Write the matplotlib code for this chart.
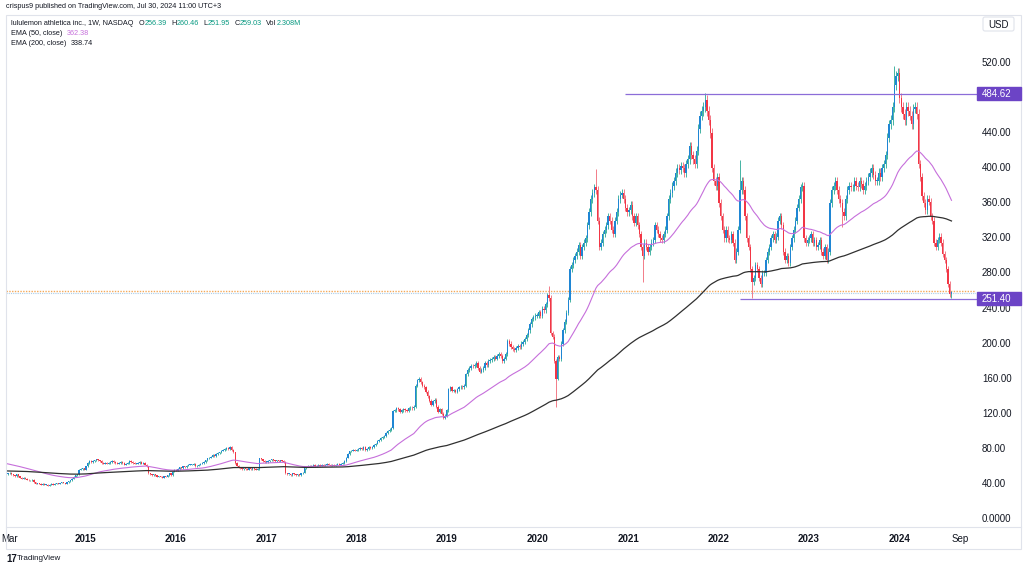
import numpy as np
import pandas as pd
import matplotlib
matplotlib.use("Agg")
import matplotlib.pyplot as plt
import matplotlib.dates as mdates
from matplotlib.patches import Rectangle, FancyBboxPatch

# ---------------- data (weekly closes, weeks starting Monday) ----------------
FIRST_WEEK = "2014-02-03"
close_2014 = [48, 50, 51, 52, 53, 51, 50, 49, 51, 49, 47, 46, 47, 46, 45, 44, 44, 45, 42, 40,
              41, 40, 39, 40, 39, 39, 38, 39, 40, 39, 40, 41, 40, 41, 42, 41, 40, 42, 43, 44,
              46, 48, 50, 51, 56, 57, 58, 56]
close_2015 = [60, 64, 66, 65, 66, 67, 68, 67, 66, 64, 63, 64, 63, 64, 65, 66, 65, 64, 63, 64,
              65, 64, 62, 63, 64, 66, 65, 64, 63, 63, 64, 65, 63, 64, 62, 60, 52, 51, 50, 51,
              50, 48, 49, 48, 47, 49, 48, 50, 52, 50, 54, 56]
close_2016 = [55, 57, 59, 58, 60, 59, 61, 62, 62, 62, 63, 60, 61, 62, 63, 64, 65, 67, 69, 70,
              71, 73, 72, 74, 75, 76, 78, 79, 80, 81, 80, 82, 79, 76, 64, 61, 59, 58, 57, 58,
              57, 56, 58, 57, 58, 57, 56, 57, 69, 68, 66, 65]
close_2017 = [65, 66, 67, 68, 67, 66, 67, 66, 67, 66, 65, 52, 51, 51, 50, 52, 51, 50, 51, 50,
              52, 53, 58, 60, 61, 60, 61, 62, 60, 61, 62, 61, 62, 61, 62, 63, 62, 61, 62, 61,
              62, 63, 62, 63, 64, 66, 70, 74, 77, 78, 79, 78]
close_2018 = [79, 80, 81, 80, 82, 79, 80, 82, 81, 82, 84, 86, 89, 90, 92, 93, 95, 98, 100, 102,
              104, 123, 124, 126, 125, 122, 124, 125, 124, 123, 126, 127, 126, 128, 152, 158, 160,
              156, 152, 150, 145, 140, 135, 130, 134, 136, 128, 122, 125, 120, 115, 118, 124]
close_2019 = [148, 150, 146, 147, 145, 148, 150, 151, 150, 152, 165, 170, 172, 175, 174, 176,
              178, 172, 168, 170, 172, 178, 176, 180, 181, 182, 185, 183, 186, 188, 186, 180,
              183, 188, 203, 200, 196, 194, 193, 195, 197, 196, 200, 202, 205, 210, 215, 222,
              228, 230, 232, 232]
close_2020 = [236, 232, 240, 238, 245, 255, 252, 212, 208, 180, 160, 185, 182, 200, 215, 225,
              235, 250, 285, 290, 295, 300, 305, 312, 300, 310, 315, 320, 335, 350, 365, 372,
              378, 375, 340, 310, 315, 325, 330, 335, 345, 340, 330, 325, 340, 350, 365, 370,
              372, 365, 355, 350]
close_2021 = [352, 358, 345, 338, 345, 335, 325, 310, 300, 315, 310, 305, 310, 315, 318, 335,
              330, 325, 320, 318, 325, 330, 345, 365, 372, 380, 385, 395, 400, 398, 402, 400,
              395, 405, 410, 425, 415, 410, 405, 420, 445, 460, 465, 470, 478, 465, 455, 440,
              400, 385, 380, 390]
close_2022 = [360, 345, 330, 320, 330, 320, 318, 325, 315, 295, 305, 330, 375, 385, 375, 345,
              320, 310, 285, 270, 275, 290, 285, 275, 268, 280, 280, 295, 305, 310, 320, 325,
              318, 322, 340, 345, 335, 305, 295, 300, 292, 310, 320, 330, 340, 355, 365, 378,
              380, 320, 315, 318]
close_2023 = [320, 325, 315, 318, 310, 312, 318, 305, 300, 310, 295, 305, 360, 375, 380, 385,
              375, 365, 360, 350, 345, 365, 375, 380, 378, 378, 385, 380, 378, 385, 382, 375,
              380, 385, 390, 395, 400, 392, 385, 385, 395, 390, 400, 405, 415, 435, 450, 455,
              470, 495, 505, 508]
close_2024 = [480, 470, 462, 455, 470, 465, 460, 450, 468, 470, 462, 405, 390, 368, 360, 352,
              365, 362, 345, 340, 315, 310, 318, 322, 315, 302, 295, 285, 268, 256.39, 259.03]

LAST_OHLC = (256.39, 260.46, 251.95, 259.03)
LAST_VOL = "2.308M"
# notable wick extremes
wick_highs = {"2020-02-17": 266, "2021-11-08": 485.8, "2022-03-28": 409, "2023-12-11": 516.4,
              "2020-08-24": 399}
wick_lows = {"2020-03-16": 128, "2021-03-01": 270, "2022-05-16": 251.5, "2023-05-15": 333}
EMA50_SEED, EMA200_SEED = 65.0, 55.0
EMA50_LAST, EMA200_LAST = "362.38", "338.74"
level_values = [484.62, 251.40]
level_starts = ["2020-12-21", "2022-03-28"]
price_ticks = [0, 40, 80, 120, 160, 200, 240, 280, 320, 360, 400, 440, 480, 520]
time_ticks = ["2014-03-01", "2015-01-01", "2016-01-01", "2017-01-01", "2018-01-01", "2019-01-01",
              "2020-01-01", "2021-01-01", "2022-01-01", "2023-01-01", "2024-01-01", "2024-09-01"]
time_labels = ["Mar", "2015", "2016", "2017", "2018", "2019", "2020", "2021", "2022", "2023",
               "2024", "Sep"]

# ---------------- styling ----------------
WICK_PAD = 0.012
TEXT = "#131722"
TEAL = "#089981"
EMA50_C = "#c66fdb"
EMA200_C = "#303030"
BODY_UP, WICK_UP = "#1f86d4", "#45b3a3"
BODY_DN, WICK_DN = "#f23645", "#f27b88"
HLINE_C, BOX_C = "#8c6dd8", "#6c44c6"
GRID_C = "#e0e3eb"

plt.rcParams['font.family'] = ['Liberation Sans', 'DejaVu Sans']

W, H = 1024, 569
PX_PER_USD = 0.877
Y0 = 519.0  # pixel row of price 0


def py(p):
    return Y0 - p * PX_PER_USD


fig = plt.figure(figsize=(W / 100, H / 100), dpi=100)
L, R, T, B = 6, 976, 14.5, 527
ax = fig.add_axes([L / W, 1 - B / H, (R - L) / W, (B - T) / H])
ax.set_ylim((Y0 - B) / PX_PER_USD, (Y0 - T) / PX_PER_USD)
d2015 = mdates.date2num(pd.Timestamp("2015-01-01"))
ppd = 90.5 / 365.25
ax.set_xlim(d2015 + (L - 85) / ppd, d2015 + (R - 85) / ppd)

closes = np.array(close_2014 + close_2015 + close_2016 + close_2017 + close_2018 + close_2019 +
                  close_2020 + close_2021 + close_2022 + close_2023 + close_2024, dtype=float)
dates = pd.date_range(FIRST_WEEK, periods=len(closes), freq="7D")
xd = mdates.date2num(dates)
opens = np.r_[closes[0], closes[:-1]]
opens[-1] = LAST_OHLC[0]
highs = np.maximum(opens, closes) * (1 + WICK_PAD)
lows = np.minimum(opens, closes) * (1 - WICK_PAD)
highs[-1], lows[-1] = LAST_OHLC[1], LAST_OHLC[2]


def idx_of(d):
    return int(np.argmin(np.abs(xd - mdates.date2num(pd.Timestamp(d)))))


for d, v in wick_highs.items():
    highs[idx_of(d)] = v
for d, v in wick_lows.items():
    lows[idx_of(d)] = v

up = closes >= opens
dn = ~up
ax.vlines(xd[up], lows[up], highs[up], colors=WICK_UP, lw=0.7, zorder=2)
ax.vlines(xd[dn], lows[dn], highs[dn], colors=WICK_DN, lw=0.7, zorder=2)
bh = np.maximum(np.abs(closes - opens), 1.0)
bb = np.minimum(opens, closes)
ax.bar(xd[up], bh[up], bottom=bb[up], width=5.2, color=BODY_UP, lw=0, zorder=3)
ax.bar(xd[dn], bh[dn], bottom=bb[dn], width=5.2, color=BODY_DN, lw=0, zorder=3)


# EMAs
def ema(vals, seed, n):
    a = 2.0 / (n + 1)
    out, e = [], seed
    for v in vals:
        e = e + a * (v - e)
        out.append(e)
    return np.array(out)


ax.plot(xd, ema(closes, EMA50_SEED, 50), color=EMA50_C, lw=0.8, zorder=4)
ax.plot(xd, ema(closes, EMA200_SEED, 200), color=EMA200_C, lw=0.9, zorder=4)

# current price dotted lines
ax.axhline(LAST_OHLC[3] + 1.2, color="#f4a95a", ls=(0, (1, 1)), lw=1.0, zorder=1)
ax.axhline(LAST_OHLC[3] - 0.8, color="#a9cdea", ls=(0, (1, 1)), lw=0.8, zorder=1)

# horizontal levels
for lv, st in zip(level_values, level_starts):
    ax.plot([mdates.date2num(pd.Timestamp(st)), ax.get_xlim()[1]], [lv, lv], color=HLINE_C,
            lw=0.9, zorder=5, solid_capstyle="butt")

ax.set_xticks(mdates.date2num(pd.to_datetime(time_ticks)))
ax.set_xticklabels(time_labels)
ax.tick_params(axis="x", length=0, pad=5, labelsize=7, labelcolor=TEXT)
for lab in ax.get_xticklabels():
    if lab.get_text().isdigit():
        lab.set_fontweight("bold")
ax.set_yticks([])
for s in ax.spines.values():
    s.set_visible(False)
ax.patch.set_visible(False)

# ---------------- overlay in pixel coordinates ----------------
ao = fig.add_axes([0, 0, 1, 1])
ao.set_xlim(0, W)
ao.set_ylim(H, 0)
ao.axis("off")
ao.patch.set_visible(False)

# border and separators
ao.add_patch(Rectangle((L, T), 1021 - L, 549 - T, fill=False, ec=GRID_C, lw=0.8))
ao.plot([L, 1021], [B, B], color=GRID_C, lw=0.8)

# price labels
for p in price_ticks:
    lbl = "0.0000" if p == 0 else f"{p:.2f}"
    ao.text(982, py(p), lbl, fontsize=7, color=TEXT, va="center", ha="left", zorder=3)
for lv in level_values:
    ao.plot([R, 978], [py(lv), py(lv)], color=HLINE_C, lw=0.9)
    ao.add_patch(Rectangle((977, py(lv) - 6.5), 44, 13, color=BOX_C, zorder=5))
    ao.text(982, py(lv), f"{lv:.2f}", fontsize=7, color="white", va="center", ha="left", zorder=6)

# USD box
ao.add_patch(FancyBboxPatch((983, 17), 31, 14, boxstyle="round,pad=0,rounding_size=2",
                            fill=False, ec=GRID_C, lw=0.8))
ao.text(998.5, 24.5, "USD", fontsize=7, color=TEXT, va="center", ha="center")

# header
ao.text(6, 6, "crispus9 published on TradingView.com, Jul 30, 2024 11:00 UTC+3",
        fontsize=5.2, color=TEXT, va="center", ha="left")


def chain(x, y, segs, size=5.2):
    t = ao.text(x, y, segs[0][0], fontsize=size, color=segs[0][1], va="center", ha="left")
    for txt, col, gap in segs[1:]:
        t = ao.annotate(txt, xy=(1, 0), xycoords=t, xytext=(gap, 0), textcoords="offset points",
                        fontsize=size, color=col, va="bottom", ha="left")
    return t


chain(11, 23.5, [("lululemon athletica inc., 1W, NASDAQ", TEXT),
                 ("O", TEXT, 4), (f"{LAST_OHLC[0]:.2f}", TEAL, 0.3),
                 ("H", TEXT, 3), (f"{LAST_OHLC[1]:.2f}", TEAL, 0.3),
                 ("L", TEXT, 3), (f"{LAST_OHLC[2]:.2f}", TEAL, 0.3),
                 ("C", TEXT, 3), (f"{LAST_OHLC[3]:.2f}", TEAL, 0.3),
                 ("Vol", TEXT, 3), (LAST_VOL, TEAL, 0.3)])
chain(11, 33.5, [("EMA (50, close)", TEXT), (EMA50_LAST, EMA50_C, 3)])
chain(11, 43.5, [("EMA (200, close)", TEXT), (EMA200_LAST, TEXT, 3)])

# logo
ao.text(6, 558.5, "17", fontsize=7, fontweight="bold", color=TEXT, va="center", ha="left")
ao.text(17, 558.5, "TradingView", fontsize=5.8, color=TEXT, va="center", ha="left")

fig.savefig("out.png", dpi=100, facecolor="white")
